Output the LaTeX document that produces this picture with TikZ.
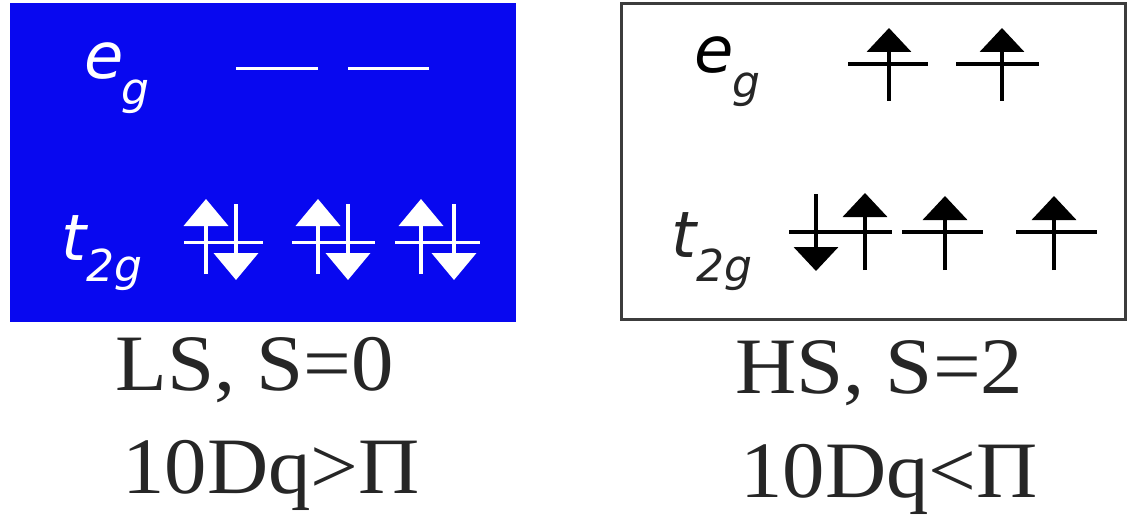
\documentclass[tikz,border=0pt]{standalone}
\usepackage{fontspec}
\setmainfont{Liberation Serif}
\newfontfamily\capfont[FakeStretch=1.06]{Liberation Serif}
\newfontfamily\labfont{DejaVu Sans}
\usetikzlibrary{arrows.meta}
\definecolor{boxblue}{RGB}{8,8,240}
\definecolor{boxgray}{RGB}{60,60,60}
\tikzset{
  lab/.style={inner sep=0pt, anchor=base west, font=\labfont\itshape\fontsize{64}{64}\selectfont},
  sublab/.style={inner sep=0pt, anchor=base west, font=\labfont\itshape\fontsize{44}{44}\selectfont},
  caption/.style={inner sep=0pt, anchor=base west, font=\capfont\fontsize{80}{80}\selectfont, text=black!85},
  level/.style={line width=3.5pt},
  spin/.style={line width=4pt, -{Triangle[width=44pt,length=27pt]}},
  spinr/.style={line width=4pt, -{Triangle[width=44pt,length=24pt]}}
}
\begin{document}
\begin{tikzpicture}[x=1pt,y=-1pt]
\useasboundingbox (0,0) rectangle (1128,519);
\fill[white] (0,0) rectangle (1128,519);
% left box
\node[fill=boxblue, minimum width=506pt, minimum height=319pt, inner sep=0pt, anchor=north west] (lbox) at (10,3) {};
\node[lab, text=white] (le) at (84,79) {e};
\node[sublab, text=white] (lg) at (121,104) {g};
\node[lab, text=white] (lt) at (61,260) {t};
\node[sublab, text=white] (l2g) at (86,281) {2g};
% left eg levels
\coordinate (le1a) at (236,69); \coordinate (le1b) at (318,69);
\coordinate (le2a) at (348,69); \coordinate (le2b) at (429,69);
\draw[level, white, line width=3pt] (le1a) -- (le1b);
\draw[level, white, line width=3pt] (le2a) -- (le2b);
% left t2g levels
\foreach \i/\a/\b/\u/\d in {1/184/263/206/236, 2/292/375/318/348, 3/395/480/421/454}{
  \coordinate (lt\i a) at (\a,242); \coordinate (lt\i b) at (\b,242);
  \coordinate (lu\i s) at (\u,274); \coordinate (lu\i e) at (\u,199);
  \coordinate (ld\i s) at (\d,204); \coordinate (ld\i e) at (\d,280);
  \draw[level, white, line width=3pt] (lt\i a) -- (lt\i b);
  \draw[spin, white] (lu\i s) -- (lu\i e);
  \draw[spin, white] (ld\i s) -- (ld\i e);
}
% right box
\node[draw=boxgray, line width=3pt, fill=white, minimum width=504pt, minimum height=316pt, inner sep=0pt, anchor=north west] (rbox) at (620,2) {};
\node[lab, text=black] (re) at (694,73) {e};
\node[sublab, text=black!85] (rg) at (732,98) {g};
\node[lab, text=black!85] (rt) at (671,257) {t};
\node[sublab, text=black!85] (r2g) at (696,281) {2g};
% right eg levels
\foreach \i/\a/\b/\u in {1/848/928/889, 2/956/1039/1002}{
  \coordinate (re\i a) at (\a,64); \coordinate (re\i b) at (\b,64);
  \coordinate (ru\i s) at (\u,101); \coordinate (ru\i e) at (\u,28);
  \draw[level, black] (re\i a) -- (re\i b);
  \draw[spinr, black] (ru\i s) -- (ru\i e);
}
% right t2g levels
\foreach \i/\a/\b in {1/789/892, 2/902/983, 3/1016/1097}{
  \coordinate (rt\i a) at (\a,232); \coordinate (rt\i b) at (\b,232);
  \draw[level, black] (rt\i a) -- (rt\i b);
}
\coordinate (rd1s) at (816,194); \coordinate (rd1e) at (816,271);
\coordinate (rv1s) at (865,270); \coordinate (rv1e) at (865,193);
\coordinate (rv2s) at (945,270); \coordinate (rv2e) at (945,196);
\coordinate (rv3s) at (1054,270); \coordinate (rv3e) at (1054,196);
\draw[spinr, black] (rd1s) -- (rd1e);
\draw[spinr, black] (rv1s) -- (rv1e);
\draw[spinr, black] (rv2s) -- (rv2e);
\draw[spinr, black] (rv3s) -- (rv3e);
% captions
\node[caption] (ls) at (115,390) {LS, S=0};
\node[caption] (lc) at (122,493) {10Dq>Π};
\node[caption] (hs) at (735,393) {HS, S=2};
\node[caption] (hc) at (740,497) {10Dq<Π};
\end{tikzpicture}
\end{document}
